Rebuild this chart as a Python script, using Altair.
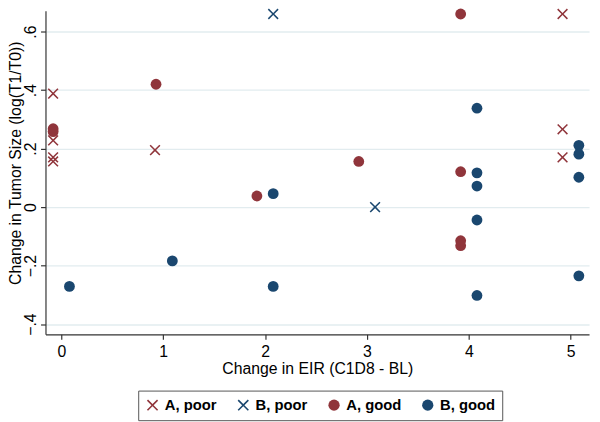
import altair as alt
import pandas as pd

# ---- data ----
a_poor_x = [-0.08, -0.08, -0.08, -0.08, 0.92, 4.92, 4.92, 4.92]
a_poor_y = [0.388, 0.228, 0.170, 0.156, 0.195, 0.660, 0.266, 0.170]

b_poor_x = [2.08, 3.08]
b_poor_y = [0.660, 0.000]

a_good_x = [-0.08, -0.08, 0.93, 1.92, 2.92, 3.92, 3.92, 3.92, 3.92]
a_good_y = [0.268, 0.258, 0.420, 0.038, 0.156, 0.660, 0.121, -0.115, -0.132]

b_good_x = [0.08, 1.09, 2.08, 2.08, 4.08, 4.08, 4.08, 4.08, 4.08, 5.08, 5.08, 5.08, 5.08]
b_good_y = [-0.271, -0.184, 0.046, -0.271, 0.338, 0.117, 0.072, -0.044, -0.302,
            0.211, 0.181, 0.102, -0.235]

groups = ["A, poor", "B, poor", "A, good", "B, good"]
group_colors = ["#90353b", "#1a476f", "#90353b", "#1a476f"]
x_ticks = [0, 1, 2, 3, 4, 5]
y_ticks = [-0.4, -0.2, 0, 0.2, 0.4, 0.6]

X_PATH = ("M-1,-0.8L-0.8,-1L0,-0.2L0.8,-1L1,-0.8L0.2,0L1,0.8"
          "L0.8,1L0,0.2L-0.8,1L-1,0.8L-0.2,0Z")
group_shapes = [X_PATH, X_PATH, "circle", "circle"]

rows = []
for i, (gx, gy) in enumerate([(a_poor_x, a_poor_y), (b_poor_x, b_poor_y),
                              (a_good_x, a_good_y), (b_good_x, b_good_y)]):
    for xv, yv in zip(gx, gy):
        rows.append({"eir": xv, "tumor": yv, "group": groups[i], "ord": i})
df = pd.DataFrame(rows)

FONT = "Liberation Sans"

legend = alt.Legend(
    title=None, orient="none", legendX=94, legendY=385, direction="horizontal",
    columns=4, strokeColor="#555555", padding=7, labelFont=FONT,
    labelFontSize=15, labelFontWeight="bold", labelColor="#000000",
    symbolSize=130, symbolStrokeWidth=0, columnPadding=19, labelOffset=5,
    fillColor="#ffffff",
)

chart = alt.Chart(df).mark_point(filled=True, size=120, opacity=1).encode(
    x=alt.X("eir:Q",
            scale=alt.Scale(domain=[-0.155, 5.18], nice=False, zero=False),
            axis=alt.Axis(values=x_ticks, grid=False, title="Change in EIR (C1D8 - BL)",
                          format="d", labelFontSize=16, titleFontSize=16,
                          labelPadding=4, titlePadding=2, tickSize=5,
                          titleFontWeight="normal")),
    y=alt.Y("tumor:Q",
            scale=alt.Scale(domain=[-0.435, 0.671], nice=False, zero=False),
            axis=alt.Axis(values=y_ticks, grid=True, title="Change in Tumor Size (log(T1/T0))",
                          labelExpr="datum.value == 0 ? '0' : replace(format(datum.value, '.1f'), '0.', '.')",
                          labelAngle=270, labelAlign="center", labelBaseline="bottom",
                          labelFontSize=16, titleFontSize=16, labelPadding=2,
                          titleX=-38, titleY=154, titleAngle=270, titleAlign="center",
                          titleBaseline="top", tickSize=5, titleFontWeight="normal")),
    color=alt.Color("group:N", scale=alt.Scale(domain=groups, range=group_colors), legend=legend),
    shape=alt.Shape("group:N", scale=alt.Scale(domain=groups, range=group_shapes), legend=legend),
    order=alt.Order("ord:Q"),
).properties(
    width=551, height=328,
    autosize=alt.AutoSizeParams(type="none"),
    padding={"left": 38, "top": 0, "right": 3, "bottom": 86},
    background="#ffffff",
).configure_view(stroke=None).configure_axis(
    labelFont=FONT, titleFont=FONT, labelColor="#000000", titleColor="#000000",
    domainColor="#333333", tickColor="#333333", domainWidth=1.2, tickWidth=1.2,
    gridColor="#e2ecef", gridWidth=1.3,
)

chart.save("out.html", embed_options={"renderer": "svg", "actions": False})
